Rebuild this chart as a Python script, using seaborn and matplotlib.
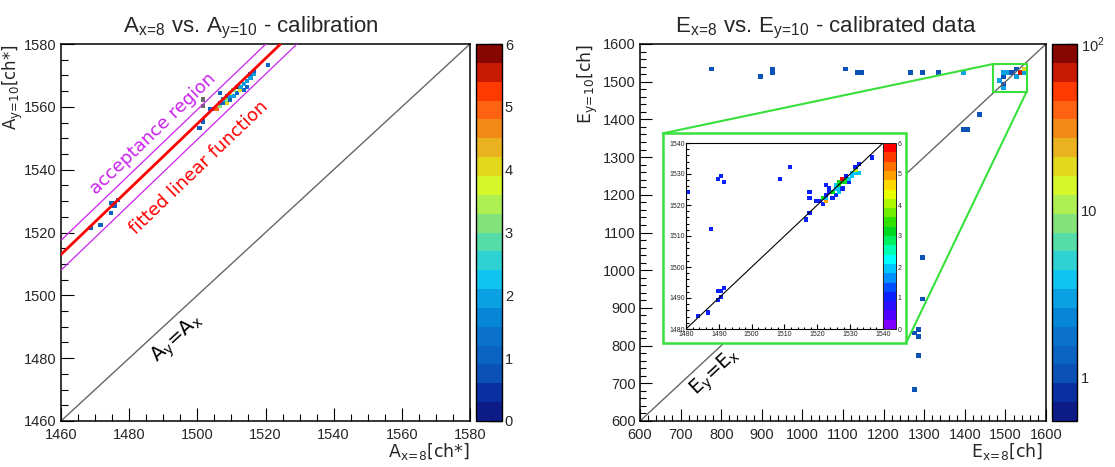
import numpy as np
import matplotlib
matplotlib.use("Agg")
import matplotlib.pyplot as plt
import seaborn as sns
from matplotlib.colors import ListedColormap, LogNorm
from matplotlib.patches import Rectangle
from matplotlib.lines import Line2D
from matplotlib.ticker import MultipleLocator, FixedLocator, NullFormatter, FixedFormatter

# ---------------- data ----------------
# left: A_x=8 vs A_y=10 (1-channel bins, lower bin edge)
left_x = [1468, 1471, 1474, 1474, 1475, 1476, 1475,
          1500, 1501, 1503, 1504, 1505, 1506, 1506, 1507, 1507, 1508, 1508, 1508,
          1509, 1509, 1509, 1510, 1510, 1511, 1511, 1512, 1512, 1513, 1513,
          1514, 1514, 1515, 1515, 1516, 1516, 1520, 1506]
left_y = [1521, 1522, 1526, 1529, 1529, 1530, 1528,
          1553, 1555, 1559, 1559, 1559, 1560, 1561, 1561, 1562, 1561, 1562, 1563,
          1562, 1563, 1564, 1565, 1563, 1566, 1564, 1565, 1566, 1565, 1567,
          1568, 1566, 1569, 1570, 1571, 1570, 1573, 1564]
left_c = [1, 1, 1, 1, 1, 1, 1,
          1, 1, 1, 1, 5, 3, 1, 1, 2, 4, 3, 1,
          1, 2, 4, 3, 2, 6, 1, 4, 2, 1, 2,
          2, 1, 2, 1, 1, 2, 1, 1]
gray_x = [1501, 1501]
gray_y = [1562, 1560]

# fitted linear function and acceptance band
fit_slope = 1.04
fit_icpt = 1513.0        # value at x = 1460
band_hi = 4.5
band_lo = -5.0

# right: E_x=8 vs E_y=10 (10-channel bins, bin centres)
right_x = [775, 895, 925, 925, 1105, 1135, 1145, 1265, 1295, 1335, 1395,
           1435, 1395, 1405,
           1295, 1295, 1285, 1275, 1285, 1285, 1275,
           1485, 1495, 1505, 1495, 1495, 1495, 1515, 1525, 1525, 1535, 1545, 1545]
right_y = [1535, 1515, 1535, 1525, 1535, 1525, 1525, 1525, 1525, 1525, 1525,
           1415, 1375, 1375,
           1035, 925, 845, 835, 825, 775, 685,
           1505, 1525, 1525, 1515, 1495, 1485, 1525, 1535, 1515, 1525, 1535, 1525]
right_c = [1, 1, 1, 1, 1, 1, 1, 1, 1, 1, 3,
           1, 1, 1,
           1, 1, 1, 1, 1, 1, 1,
           3, 3, 3, 1, 1, 3, 1, 1, 3, 60, 18, 3]

# inset: zoom 1480-1540 (1-channel bins, lower bin edge)
ins_x = [1480, 1489, 1490, 1491, 1487, 1483, 1486, 1489, 1490, 1491, 1490, 1489,
         1508, 1511, 1516, 1517, 1517, 1517, 1519, 1520, 1521, 1522, 1522, 1523, 1523, 1522,
         1524, 1525, 1521, 1522, 1524, 1525, 1526, 1526, 1527, 1527, 1528, 1528, 1525, 1526,
         1526, 1527, 1529, 1528, 1529, 1530, 1531, 1530, 1531, 1531, 1532, 1532, 1536]
ins_y = [1524, 1528, 1529, 1527, 1512, 1484, 1485, 1492, 1492, 1493, 1490, 1489,
         1528, 1532, 1515, 1517, 1522, 1524, 1521, 1521, 1520, 1521, 1526, 1525, 1524, 1523,
         1522, 1523, 1522, 1522, 1524, 1525, 1526, 1527, 1527, 1528, 1528, 1527, 1526, 1525,
         1524, 1525, 1527, 1529, 1528, 1530, 1530, 1529, 1531, 1532, 1533, 1530, 1535]
ins_c = [1, 1, 1, 1, 1, 1, 1, 1, 1, 1, 1, 1,
         1, 1, 1, 1, 1, 1, 1, 1, 1, 5, 1, 1, 1, 1,
         1, 1, 3, 2, 3, 2, 3, 3, 3, 6, 3, 3, 2, 2,
         2, 1, 1, 1, 2, 2, 2, 2, 4, 1, 1, 2, 1]

# colour palettes (20 levels)
pal_main = ['#0d1b87', '#0a2fa0', '#0b52b6', '#0b63c2', '#0a72ca', '#0886d6', '#0aa1e3',
            '#10c4ef', '#2fd2d2', '#56dca8', '#84e27a', '#aef052', '#d6f72a', '#e2d81e',
            '#e9b21e', '#f28a18', '#ff6210', '#ff3a00', '#c81a00', '#860600']
pal_inset = ['#7f00ff', '#5000ff', '#2a10ff', '#0a20ff', '#0050ff', '#0090ff', '#00c8ff',
             '#00ffff', '#00ffb0', '#00f060', '#00d820', '#30e000', '#70ee00', '#b0f800',
             '#e8ff00', '#ffd800', '#ffa000', '#ff7000', '#ff3800', '#ff0000']

# ---------------- figure ----------------
sns.set_theme(style="white")
plt.rcParams['font.family'] = ['Liberation Sans', 'DejaVu Sans']
plt.rcParams['axes.linewidth'] = 1.1
plt.rcParams['patch.force_edgecolor'] = False

W, H = 1115, 467
fig = plt.figure(figsize=(W / 100, H / 100), dpi=100)
fig.patch.set_facecolor('white')


def fa(x0, y0, x1, y1):
    return [x0 / W, 1 - y1 / H, (x1 - x0) / W, (y1 - y0) / H]


def sub(base, s):
    """base letter with a compact subscript (mathtext)"""
    s = s.replace('=', r'\!=\!')
    return base + r'$_{\mathregular{' + s + '}}$'


cmap_main = ListedColormap(pal_main)
cmap_ins = ListedColormap(pal_inset)
TICKFS = 10.5
MESH = dict(edgecolor='face', linewidth=0.5)


def style_axes(ax, major, minor, maj_len=9.4, min_len=5, fs=TICKFS, lw=1.1, xpad=5, ypad=3):
    ax.xaxis.set_major_locator(MultipleLocator(major))
    ax.xaxis.set_minor_locator(MultipleLocator(minor))
    ax.yaxis.set_major_locator(MultipleLocator(major))
    ax.yaxis.set_minor_locator(MultipleLocator(minor))
    ax.tick_params(which='both', direction='in', bottom=True, left=True,
                   top=False, right=False, color='black', width=0.8)
    ax.tick_params(which='major', length=maj_len, labelsize=fs)
    ax.tick_params(axis='x', which='major', pad=xpad)
    ax.tick_params(axis='y', which='major', pad=ypad)
    ax.tick_params(which='minor', length=min_len)
    for s in ax.spines.values():
        s.set_color('black')
        s.set_linewidth(lw)
    ax.set_xlabel('')
    ax.set_ylabel('')
    ax.grid(False)


# ---- left panel ----
axL = fig.add_axes(fa(61, 44, 470, 421))
hx = np.array(left_x) + 0.5
hy = np.array(left_y) + 0.5
sns.histplot(x=hx, y=hy, weights=left_c, binwidth=1,
             binrange=((1460, 1580), (1460, 1580)), cmap=cmap_main,
             vmin=0, vmax=6, ax=axL, **MESH)
meshL = axL.collections[-1]
sns.histplot(x=np.array(gray_x) + 0.5, y=np.array(gray_y) + 0.5, binwidth=1,
             binrange=((1460, 1580), (1460, 1580)),
             cmap=ListedColormap(['#6a6a6a']), vmin=0, vmax=1, ax=axL, **MESH)
axL.set_xlim(1460, 1580)
axL.set_ylim(1460, 1580)
style_axes(axL, 20, 5)

xs = np.array([1460, 1580])
axL.plot(xs, xs, color='#666666', lw=1.0, zorder=1)
axL.plot(xs, fit_icpt + fit_slope * (xs - 1460), color='#ff0000', lw=2.0, zorder=3)
axL.plot(xs, fit_icpt + band_hi + fit_slope * (xs - 1460), color='#cc22ee', lw=0.9, zorder=3)
axL.plot(xs, fit_icpt + band_lo + fit_slope * (xs - 1460), color='#cc22ee', lw=0.9, zorder=3)

axL.text(1487, 1551.5, 'acceptance region', color='#cc22ee', fontsize=13,
         family='DejaVu Sans', rotation=43.8, ha='center', va='center',
         rotation_mode='anchor')
axL.text(1500.5, 1540.5, 'fitted linear function', color='#ff0000', fontsize=13,
         family='DejaVu Sans', rotation=43.8, ha='center', va='center',
         rotation_mode='anchor')
axL.text(1494, 1486, sub('A', 'y') + '=' + sub('A', 'x'), color='black',
         fontsize=14, family='DejaVu Sans', rotation=42.7, ha='center', va='center',
         rotation_mode='anchor')

caxL = fig.add_axes(fa(476, 44, 502, 421))
cbL = fig.colorbar(meshL, cax=caxL)
cbL.set_ticks([0, 1, 2, 3, 4, 5, 6])
cbL.ax.tick_params(direction='in', length=9.4, width=0.9, labelsize=TICKFS, pad=2,
                   color='black')
cbL.ax.minorticks_off()
cbL.outline.set_linewidth(1.0)
cbL.outline.set_edgecolor('black')

fig.text(251 / W, 1 - 32 / H,
         sub('A', 'x=8') + ' vs. ' + sub('A', 'y=10') + ' - calibration',
         ha='center', va='baseline', fontsize=16, family='Liberation Sans')
fig.text(470 / W, 1 - 457 / H, sub('A', 'x=8') + '[ch*]', ha='right',
         va='baseline', fontsize=12.5, family='DejaVu Sans')
fig.text(25 / W, 1 - 44 / H, sub('A', 'y=10') + '[ch*]', ha='right',
         va='top', rotation=90, fontsize=12, family='DejaVu Sans')

# ---- right panel ----
axR = fig.add_axes(fa(640, 44, 1046, 421))
sns.histplot(x=right_x, y=right_y, weights=right_c, binwidth=10,
             binrange=((600, 1600), (600, 1600)), cmap=cmap_main, ax=axR, **MESH)
meshR = axR.collections[-1]
meshR.set_norm(LogNorm(vmin=0.55, vmax=100))
axR.set_xlim(600, 1600)
axR.set_ylim(600, 1600)
style_axes(axR, 100, 20, maj_len=8.6, min_len=4.3)
xr = np.array([600, 1600])
axR.plot(xr, xr, color='#666666', lw=1.0, zorder=1)
axR.text(785, 727, sub('E', 'y') + '=' + sub('E', 'x'), color='black',
         fontsize=14, family='DejaVu Sans', rotation=42.9, ha='center', va='center',
         rotation_mode='anchor')

green = '#38e03c'
# small zoom box and big inset frame (data coordinates of main axes)
axR.add_patch(Rectangle((1470, 1473), 82, 74, fill=False, edgecolor=green, lw=1.5,
                        zorder=4, clip_on=False))
axR.add_patch(Rectangle((656, 806), 599, 557, facecolor='white', edgecolor=green,
                        lw=1.8, zorder=4, clip_on=False))
axR.add_line(Line2D([656, 1470], [1363, 1547], color=green, lw=1.5, zorder=4))
axR.add_line(Line2D([1255, 1552], [806, 1473], color=green, lw=1.5, zorder=4))

caxR = fig.add_axes(fa(1052, 44, 1077, 421))
cbR = fig.colorbar(meshR, cax=caxR)
cbR.ax.yaxis.set_major_locator(FixedLocator([1, 10, 100]))
cbR.ax.yaxis.set_major_formatter(FixedFormatter(['1', '10', r'10$^{\mathregular{2}}$']))
minors = [0.6, 0.7, 0.8, 0.9] + [i for i in range(2, 10)] + [10 * i for i in range(2, 10)]
cbR.ax.yaxis.set_minor_locator(FixedLocator(minors))
cbR.ax.yaxis.set_minor_formatter(NullFormatter())
cbR.ax.tick_params(which='major', direction='in', length=8, width=0.9,
                   labelsize=TICKFS, pad=3, color='black')
cbR.ax.tick_params(which='minor', direction='in', length=4.3, width=0.8, color='black')
cbR.outline.set_linewidth(1.0)
cbR.outline.set_edgecolor('black')

fig.text(826 / W, 1 - 32 / H,
         sub('E', 'x=8') + ' vs. ' + sub('E', 'y=10') + ' - calibrated data',
         ha='center', va='baseline', fontsize=16, family='Liberation Sans')
fig.text(1043 / W, 1 - 457 / H, sub('E', 'x=8') + '[ch]', ha='right',
         va='baseline', fontsize=12.5, family='DejaVu Sans')
fig.text(600 / W, 1 - 44 / H, sub('E', 'y=10') + '[ch]', ha='right',
         va='top', rotation=90, fontsize=12.5, family='DejaVu Sans')

# ---- inset ----
axI = fig.add_axes(fa(686, 143, 883, 329))
axI.set_zorder(5)
sns.histplot(x=np.array(ins_x) + 0.5, y=np.array(ins_y) + 0.5, weights=ins_c,
             binwidth=1, binrange=((1480, 1540), (1480, 1540)), cmap=cmap_ins,
             vmin=0, vmax=6, ax=axI, **MESH)
meshI = axI.collections[-1]
axI.set_xlim(1480, 1540)
axI.set_ylim(1480, 1540)
style_axes(axI, 10, 2, maj_len=3.5, min_len=1.8, fs=5, lw=0.8, xpad=1.5, ypad=1)
xi = np.array([1480, 1540])
axI.plot(xi, xi, color='black', lw=0.8, zorder=3)

caxI = fig.add_axes(fa(883, 143, 896, 329))
caxI.set_zorder(5)
cbI = fig.colorbar(meshI, cax=caxI)
cbI.set_ticks([0, 1, 2, 3, 4, 5, 6])
cbI.ax.tick_params(direction='in', length=3.5, width=0.6, labelsize=5, pad=1,
                   color='black')
cbI.ax.minorticks_off()
cbI.outline.set_linewidth(0.7)

fig.savefig('out.png', dpi=100)
